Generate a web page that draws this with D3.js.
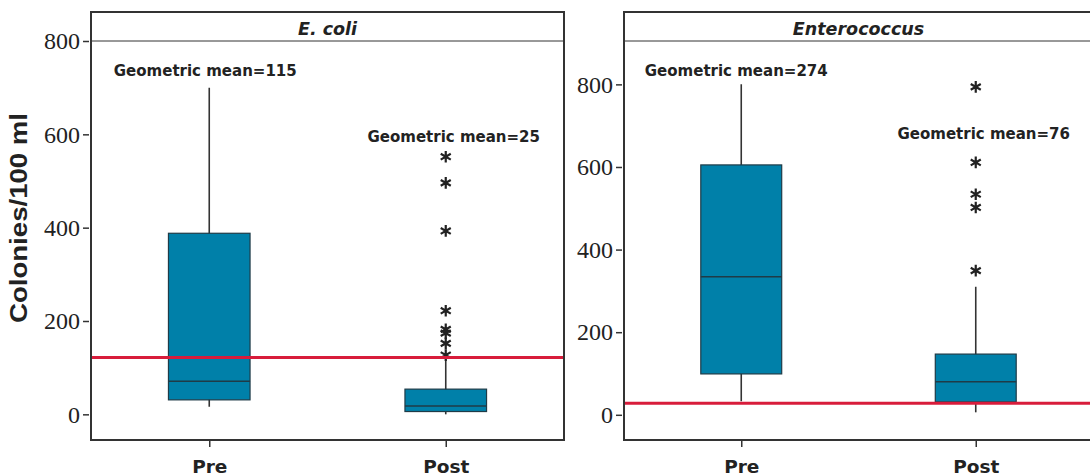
<!DOCTYPE html>
<meta charset="utf-8">
<style>
body { margin: 0; background: #fff; }
.frame { fill: none; stroke: #333; stroke-width: 2; }
.strip-line { stroke: #333; stroke-width: 1; }
.box { fill: #0080a9; stroke: #1f3b47; stroke-width: 1.2; }
.median { stroke: #1f3b47; stroke-width: 1.5; }
.whisker { stroke: #333; stroke-width: 1.6; }
.outlier { fill: none; stroke: #222; stroke-width: 2.2; }
.standard { stroke: #d81c3b; stroke-width: 3; }
.yaxis text { font-family: "Liberation Serif", serif; font-size: 24px; fill: #222; }
.yaxis line, .xaxis line { stroke: #333; stroke-width: 1.5; }
.xaxis text { font-family: "DejaVu Sans", sans-serif; font-weight: bold; font-size: 18.5px; fill: #222; }
.gm { font-family: "DejaVu Sans", sans-serif; font-weight: bold; font-size: 15px; fill: #222; }
.strip { font-family: "DejaVu Sans", sans-serif; font-weight: bold; font-style: italic; font-size: 17.5px; fill: #222; }
.ytitle { font-family: "Liberation Sans", Arial, sans-serif; font-weight: bold; font-size: 24px; fill: #222; }
</style>
<svg width="1090" height="476"></svg>
<script src="https://d3js.org/d3.v7.min.js"></script>
<script>

// data
var groups = ["Pre", "Post"];
var panels = ["E. coli", "Enterococcus"];
var yTicks = [0, 200, 400, 600, 800];

// box stats per panel: [whisker low, q1, median, q3, whisker high]
var ecoliBoxes = [[16, 31, 71, 388, 700], [0, 6, 18, 54, 120]];
var enteroBoxes = [[33, 99, 334, 605, 800], [6, 31, 80, 147, 310]];

// outliers (asterisks) for the Post group
var ecoliOutliers = [552, 496, 393, 222, 182, 174, 152, 127];
var enteroOutliers = [794, 611, 534, 502, 349];

// standard (red line)
var standards = [122, 28];

// geometric mean labels and the height they sit at
var geoMeans = [[115, 25], [274, 76]];
var geoMeanY = [[725, 584], [820, 667]];

var yDomains = [[-55, 800], [-61, 905]];

var svg = d3.select("svg");

var layout = [
  {x0: 91, x1: 564},
  {x0: 624, x1: 1093}
];
var topY = 12, stripH = 29, bottomY = 440;
// labels sit a bit off the box centres
var labelShift = [[-4, 8], [-5, 8]];

var boxes = [ecoliBoxes, enteroBoxes];
var outliers = [ecoliOutliers, enteroOutliers];

panels.forEach(function(name, i) {
  var L = layout[i];
  var g = svg.append("g");

  var x = d3.scalePoint().domain(groups).range([L.x0, L.x1]).padding(0.5);
  var y = d3.scaleLinear().domain(yDomains[i]).range([bottomY, topY + stripH]);
  var bw = x.step() * 0.345;

  // axes
  g.append("g")
      .attr("class", "yaxis")
      .attr("transform", "translate(" + (L.x0 - 2) + ",0)")
      .call(d3.axisLeft(y).tickValues(yTicks).tickSize(6).tickPadding(3))
    .select(".domain").remove();

  g.append("g")
      .attr("class", "xaxis")
      .attr("transform", "translate(0," + bottomY + ")")
      .call(d3.axisBottom(x).tickSize(7).tickPadding(13))
    .select(".domain").remove();

  // whiskers
  g.selectAll(".whisker")
    .data(boxes[i])
    .enter().append("line")
      .attr("class", "whisker")
      .attr("x1", function(d, j) { return x(groups[j]); })
      .attr("x2", function(d, j) { return x(groups[j]); })
      .attr("y1", function(d) { return y(d[0]); })
      .attr("y2", function(d) { return y(d[4]); });

  // boxes
  g.selectAll(".box")
    .data(boxes[i])
    .enter().append("rect")
      .attr("class", "box")
      .attr("x", function(d, j) { return x(groups[j]) - bw / 2; })
      .attr("width", bw)
      .attr("y", function(d) { return y(d[3]); })
      .attr("height", function(d) { return y(d[1]) - y(d[3]); });

  g.selectAll(".median")
    .data(boxes[i])
    .enter().append("line")
      .attr("class", "median")
      .attr("x1", function(d, j) { return x(groups[j]) - bw / 2; })
      .attr("x2", function(d, j) { return x(groups[j]) + bw / 2; })
      .attr("y1", function(d) { return y(d[2]); })
      .attr("y2", function(d) { return y(d[2]); });

  // outliers
  var star = d3.symbol().type(d3.symbolAsterisk).size(95);
  g.selectAll(".outlier")
    .data(outliers[i])
    .enter().append("path")
      .attr("class", "outlier")
      .attr("d", star)
      .attr("transform", function(d) { return "translate(" + x("Post") + "," + y(d) + ")"; });

  // standard line
  g.append("line")
      .attr("class", "standard")
      .attr("x1", L.x0)
      .attr("x2", L.x1)
      .attr("y1", y(standards[i]))
      .attr("y2", y(standards[i]));

  // geometric mean labels
  g.selectAll(".gm")
    .data(geoMeans[i])
    .enter().append("text")
      .attr("class", "gm")
      .attr("text-anchor", "middle")
      .attr("x", function(d, j) { return x(groups[j]) + labelShift[i][j]; })
      .attr("y", function(d, j) { return y(geoMeanY[i][j]); })
      .text(function(d) { return "Geometric mean=" + d; });

  // frame + strip
  g.append("line")
      .attr("class", "strip-line")
      .attr("x1", L.x0).attr("x2", L.x1)
      .attr("y1", topY + stripH).attr("y2", topY + stripH);
  g.append("text")
      .attr("class", "strip")
      .attr("text-anchor", "middle")
      .attr("x", (L.x0 + L.x1) / 2)
      .attr("y", topY + 23)
      .text(name);
  g.append("rect")
      .attr("class", "frame")
      .attr("x", L.x0).attr("y", topY)
      .attr("width", L.x1 - L.x0).attr("height", bottomY - topY);
});

svg.append("text")
    .attr("class", "ytitle")
    .attr("text-anchor", "middle")
    .attr("transform", "translate(27,218) rotate(-90)")
    .attr("textLength", 210)
    .attr("lengthAdjust", "spacingAndGlyphs")
    .text("Colonies/100 ml");

</script>
